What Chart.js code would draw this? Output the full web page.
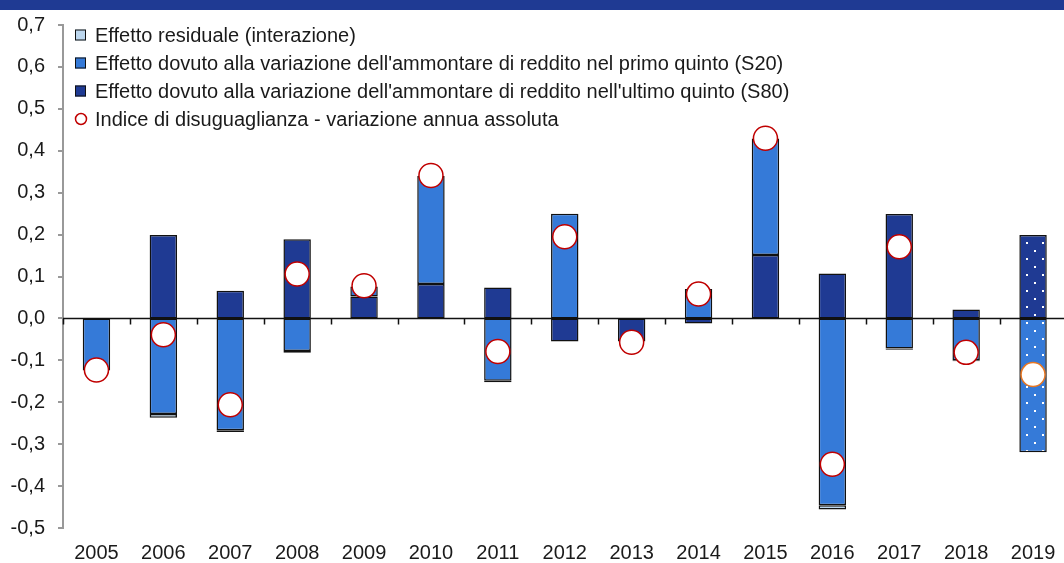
<!DOCTYPE html>
<html>
<head>
<meta charset="utf-8">
<script src="https://cdn.jsdelivr.net/npm/chart.js@4/dist/chart.umd.min.js"></script>
<style>
  html, body { margin: 0; padding: 0; background: #fff; overflow: hidden; }
  #wrap { position: relative; width: 1080px; height: 563px; }
  #band { position: absolute; left: 0; top: 0; width: 1064px; height: 10px; background: #1F3A93; }
</style>
</head>
<body>
<div id="wrap">
  <canvas id="chart" width="1080" height="563"></canvas>
  <div id="band"></div>
</div>
<script>
const years = ["2005","2006","2007","2008","2009","2010","2011","2012","2013","2014","2015","2016","2017","2018","2019"];
// effetto S80 (ultimo quinto)
const s80 = [null, 0.199, 0.066, 0.189, 0.052, 0.082, 0.074, -0.055, -0.055, -0.012, 0.151, 0.107, 0.249, 0.021, 0.199];
// effetto S20 (primo quinto)
const s20 = [-0.124, -0.228, -0.267, -0.078, 0.024, 0.258, -0.149, 0.25, null, 0.07, 0.278, -0.446, -0.072, -0.100, -0.319];
// effetto residuale
const residuo = [null, -0.009, -0.004, -0.004, null, null, -0.003, null, null, null, null, -0.010, -0.003, -0.002, null];
// variazione annua indice
const indice = [-0.123, -0.039, -0.206, 0.106, 0.078, 0.341, -0.079, 0.195, -0.057, 0.058, 0.430, -0.348, 0.171, -0.081, -0.134];

const legendLabels = [
  "Effetto residuale (interazione)",
  "Effetto dovuto alla variazione dell'ammontare di reddito nel primo quinto (S20)",
  "Effetto dovuto alla variazione dell'ammontare di reddito nell'ultimo quinto (S80)",
  "Indice di disuguaglianza - variazione annua assoluta"
];

const DARK = "#1F3A93", MID = "#357AD8", LIGHT = "#BDD7EE", RED = "#C00000", ORANGE = "#E87722";
const FONT = "'Liberation Sans', Arial, sans-serif";

function dots(color) {
  const c = document.createElement("canvas");
  c.width = 16; c.height = 16;
  const g = c.getContext("2d");
  g.fillStyle = color; g.fillRect(0, 0, 16, 16);
  g.fillStyle = "#ffffff";
  g.fillRect(2, 2, 2, 2);
  g.fillRect(10, 10, 2, 2);
  return g.createPattern(c, "repeat");
}

const last = years.length - 1;
const fills = (base) => years.map((y, i) => i === last ? dots(base) : base);

const axisDeco = {
  id: "axisDeco",
  afterDatasetsDraw(chart) {
    const { ctx, chartArea, scales } = chart;
    const y0 = scales.y.getPixelForValue(0);
    const step = (chartArea.right - chartArea.left) / years.length;
    ctx.save();
    ctx.strokeStyle = "#111";
    ctx.lineWidth = 1.5;
    ctx.beginPath();
    ctx.moveTo(chartArea.left, y0);
    ctx.lineTo(chartArea.right, y0);
    for (let i = 0; i <= years.length; i++) {
      const x = Math.round(chartArea.left + i * step) + 0.5;
      ctx.moveTo(x, y0);
      ctx.lineTo(x, y0 + 6);
    }
    ctx.stroke();
    ctx.restore();
  },
  afterDraw(chart) {
    const ctx = chart.ctx;
    ctx.save();
    ctx.font = "20px " + FONT;
    ctx.textBaseline = "middle";
    const boxes = [LIGHT, MID, DARK, null];
    legendLabels.forEach((t, i) => {
      const cy = 35 + i * 28;
      if (boxes[i]) {
        ctx.fillStyle = boxes[i];
        ctx.fillRect(75, cy - 5.5, 11, 11);
        ctx.strokeStyle = "#111";
        ctx.lineWidth = 1;
        ctx.strokeRect(75.5, cy - 5, 10, 10);
      } else {
        ctx.beginPath();
        ctx.arc(81, cy, 5.5, 0, Math.PI * 2);
        ctx.fillStyle = "#fff";
        ctx.fill();
        ctx.strokeStyle = RED;
        ctx.lineWidth = 1.5;
        ctx.stroke();
      }
      ctx.fillStyle = "#1a1a1a";
      ctx.fillText(t, 95, cy + 1);
    });
    ctx.restore();
  }
};

new Chart(document.getElementById("chart"), {
  data: {
    labels: years,
    datasets: [
      { type: "line", label: legendLabels[3], data: indice, stack: "pts", order: 0,
        showLine: false, pointRadius: 12, pointHoverRadius: 12,
        pointBackgroundColor: "#fff",
        pointBorderColor: years.map((y, i) => i === last ? ORANGE : RED),
        pointBorderWidth: 1.5 },
      { type: "bar", label: legendLabels[2], data: s80, stack: "eff", order: 1,
        backgroundColor: fills(DARK), borderColor: "#111", borderWidth: 1.5, borderSkipped: false },
      { type: "bar", label: legendLabels[1], data: s20, stack: "eff", order: 1,
        backgroundColor: fills(MID), borderColor: "#111", borderWidth: 1.5, borderSkipped: false },
      { type: "bar", label: legendLabels[0], data: residuo, stack: "eff", order: 1,
        backgroundColor: LIGHT, borderColor: "#111", borderWidth: 1.5, borderSkipped: false }
    ]
  },
  options: {
    responsive: false,
    animation: false,
    datasets: { bar: { categoryPercentage: 0.41, barPercentage: 1 } },
    layout: { padding: { top: 24, bottom: 0, left: 0, right: 6 } },
    plugins: { legend: { display: false }, tooltip: { enabled: false } },
    scales: {
      x: {
        stacked: true,
        offset: true,
        afterFit(s) { s.height = 35; },
        grid: { display: false, drawTicks: false },
        border: { display: false },
        ticks: { color: "#1a1a1a", padding: 13, font: { family: FONT, size: 20 } }
      },
      y: {
        stacked: true,
        min: -0.5, max: 0.7,
        afterFit(s) { s.width = 63; },
        grid: { drawOnChartArea: false, tickLength: 5, color: "#999", lineWidth: 2 },
        border: { color: "#999", width: 2 },
        ticks: {
          stepSize: 0.1, padding: 13, color: "#1a1a1a",
          font: { family: FONT, size: 20 },
          callback: v => (Math.abs(v) < 1e-9 ? 0 : v).toFixed(1).replace(".", ",")
        }
      }
    }
  },
  plugins: [axisDeco]
});
</script>
</body>
</html>
